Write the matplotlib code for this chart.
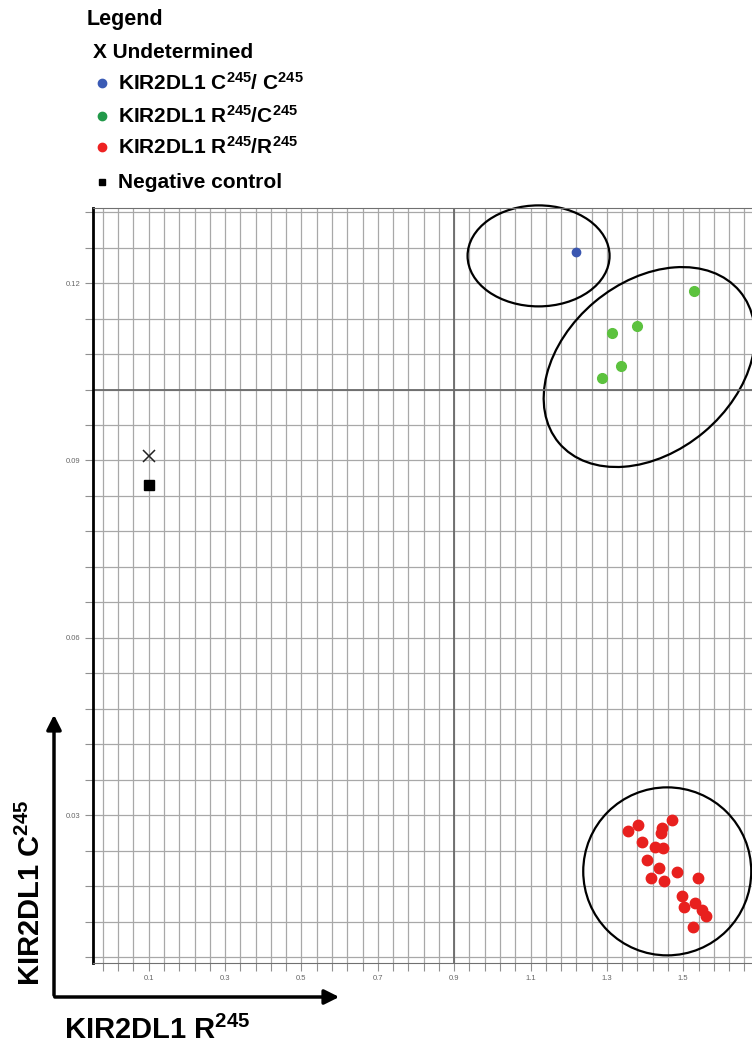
"""Allelic discrimination plot, KIR2DL1 R245 vs C245."""

import numpy as np
import matplotlib
matplotlib.use("Agg")
import matplotlib.pyplot as plt
from matplotlib.lines import Line2D
from matplotlib.patches import Ellipse, FancyArrowPatch
from matplotlib.transforms import ScaledTranslation

plt.rcParams["font.family"] = ["Liberation Sans", "DejaVu Sans"]
plt.rcParams["mathtext.fontset"] = "custom"
plt.rcParams["mathtext.rm"] = "Liberation Sans:bold"
plt.rcParams["mathtext.it"] = "Liberation Sans:bold"
plt.rcParams["mathtext.bf"] = "Liberation Sans:bold"

# data (x = R245 signal, y = C245 signal)
undet_x = [0.10]
undet_y = [0.0907]
neg_x = [0.10]
neg_y = [0.0858]
cc_x = [1.220]
cc_y = [0.1252]
rc_x = [1.529, 1.380, 1.314, 1.338, 1.286]
rc_y = [0.1186, 0.1127, 0.1115, 0.1060, 0.1039]
rr_x = [1.356, 1.382, 1.471, 1.445, 1.442, 1.393, 1.427, 1.448, 1.406, 1.437,
        1.416, 1.450, 1.484, 1.539, 1.497, 1.531, 1.502, 1.549, 1.560, 1.526]
rr_y = [0.0273, 0.0283, 0.0292, 0.0278, 0.0270, 0.0254, 0.0246, 0.0244, 0.0224, 0.0210,
        0.0193, 0.0188, 0.0204, 0.0193, 0.0163, 0.0151, 0.0144, 0.0139, 0.0129, 0.0111]

x_ticks = [0.1, 0.3, 0.5, 0.7, 0.9, 1.1, 1.3, 1.5]
y_ticks = [0.03, 0.06, 0.09, 0.12]

# cluster outlines: centre (data), width/height (inches), angle
clusters = [
    ((1.121, 0.1246), 1.42, 1.01, 0),
    ((1.411, 0.1058), 2.36, 1.70, 40),
    ((1.458, 0.0205), 1.68, 1.68, 0),
]

BLUE = "#3a56b0"
GREEN = "#5cc23e"
RED = "#e8201e"

W, H = 752, 1046
fig = plt.figure(figsize=(W / 100, H / 100), dpi=100)
ax = fig.add_axes([93 / W, 1 - 963 / H, 1 - 93 / W, (963 - 208) / H])

ax.set_xlim(-0.046, 1.68)
ax.set_ylim(0.0050, 0.1327)
ax.set_xticks(x_ticks)
ax.set_xticks(np.arange(-0.02, 1.68, 0.04), minor=True)
ax.set_yticks(y_ticks)
ax.set_yticks(np.arange(0.006, 0.133, 0.006), minor=True)
ax.set_xticklabels([f"{v:.1f}" for v in x_ticks])
ax.set_yticklabels([f"{v:.2f}" for v in y_ticks])
ax.grid(which="both", color="#a8a8a8", lw=0.9)
ax.axvline(0.9, color="#6a6a6a", lw=1.3)
ax.axhline(0.102, color="#6a6a6a", lw=1.3)
ax.set_axisbelow(True)
ax.tick_params(which="both", direction="out", length=6, width=0.8,
               color="#909090", labelsize=5.5, labelcolor="#666666", pad=3)

ax.spines["right"].set_visible(False)
ax.spines["left"].set_linewidth(2)
ax.spines["left"].set_color("black")
ax.spines["top"].set_color("#707070")
ax.spines["bottom"].set_color("#707070")

for (cx, cy), w, h, ang in clusters:
    tr = fig.dpi_scale_trans + ScaledTranslation(cx, cy, ax.transData)
    ax.add_patch(Ellipse((0, 0), w, h, angle=ang, transform=tr,
                         fill=False, ec="black", lw=1.6, clip_on=False))

ax.plot(undet_x, undet_y, ls="", marker="x", ms=8, mew=1.1, color="#222222")
ax.plot(neg_x, neg_y, ls="", marker="s", ms=6.5, color="black")
ax.plot(cc_x, cc_y, ls="", marker="o", ms=6, color=BLUE)
ax.plot(rc_x, rc_y, ls="", marker="o", ms=7, color=GREEN)
ax.plot(rr_x, rr_y, ls="", marker="o", ms=7.5, color=RED)


# legend block (figure pixel helpers)
def fx(px):
    return px / W


def fy(py):
    return 1 - py / H


fig.text(fx(87), fy(19), "Legend", fontsize=15.5, fontweight="bold", va="center")
fig.text(fx(93), fy(52), "X Undetermined", fontsize=15, fontweight="bold", va="center")
leg_items = [
    ("o", 83, "#3b5bb5", "KIR2DL1 C$^{245}$/ C$^{245}$"),
    ("o", 116, "#22994a", "KIR2DL1 R$^{245}$/C$^{245}$"),
    ("o", 147, "#ee2222", "KIR2DL1 R$^{245}$/R$^{245}$"),
    ("s", 182, "black", "Negative control"),
]
for mk, py, col, lab in leg_items:
    fig.add_artist(Line2D([fx(102)], [fy(py)], transform=fig.transFigure, ls="",
                          marker=mk, ms=6 if mk == "o" else 5, color=col))
    fig.text(fx(118), fy(py), lab, fontsize=15, fontweight="bold", va="center")

# axis arrows and titles
arrow = dict(arrowstyle="-|>", lw=2.5, color="black", mutation_scale=22)
fig.add_artist(FancyArrowPatch((fx(54), fy(998)), (fx(54), fy(712)),
                               transform=fig.transFigure, **arrow))
fig.add_artist(FancyArrowPatch((fx(52), fy(997)), (fx(342), fy(997)),
                               transform=fig.transFigure, **arrow))
fig.text(fx(31), fy(893), "KIR2DL1 C$^{245}$", rotation=90, fontsize=21,
         fontweight="bold", ha="center", va="center")
fig.text(fx(157), fy(1030), "KIR2DL1 R$^{245}$", fontsize=21,
         fontweight="bold", ha="center", va="center")

fig.savefig("out.png", dpi=100)
